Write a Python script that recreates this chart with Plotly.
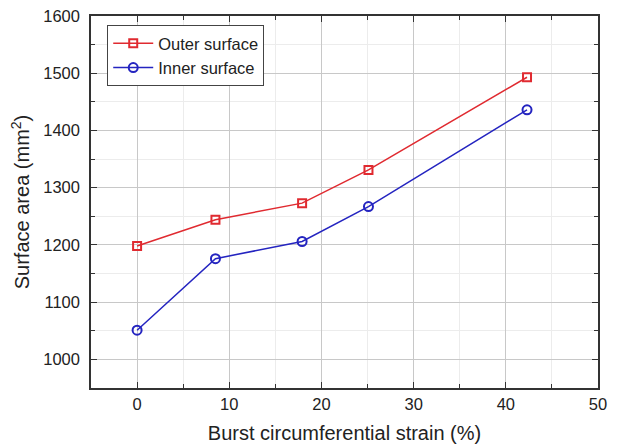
import plotly.graph_objects as go

strain = [0, 8.5, 17.9, 25.1, 42.3]
outer = [1198, 1244, 1273, 1331, 1493]
inner = [1051, 1176, 1206, 1267, 1436]

red = "#e02a30"
blue = "#2424c0"
font = "Liberation Sans"

fig = go.Figure()
fig.add_trace(go.Scatter(x=strain, y=outer, name="Outer surface", mode="lines+markers",
                         line=dict(color=red, width=1.5),
                         marker=dict(symbol="square-open", size=8, color=red, line=dict(width=2, color=red))))
fig.add_trace(go.Scatter(x=strain, y=inner, name="Inner surface", mode="lines+markers",
                         line=dict(color=blue, width=1.5),
                         marker=dict(symbol="circle-open", size=9, color=blue, line=dict(width=2, color=blue))))

axis_common = dict(showline=True, linecolor="#333", linewidth=1.5, mirror="ticks",
                   ticks="inside", ticklen=6, tickwidth=1.2, tickcolor="#333",
                   showgrid=True, gridcolor="#c8c8c8", gridwidth=1, zeroline=False,
                   automargin=False, ticklabeloverflow="allow",
                   tickfont=dict(family=font, size=16.5, color="#222"))

fig.update_xaxes(range=[-5, 50], dtick=10, tick0=0,
                 minor=dict(dtick=5, ticks="inside", ticklen=4, tickcolor="#333", showgrid=True, gridcolor="#ececec"),
                 title=dict(text="Burst circumferential strain (%)", font=dict(family=font, size=20, color="#222"), standoff=14),
                 ticklabelstandoff=0,
                 **axis_common)
fig.update_yaxes(range=[950, 1600], dtick=100, tick0=1000,
                 minor=dict(dtick=50, ticks="inside", ticklen=4, tickcolor="#333", showgrid=True, gridcolor="#ececec"),
                 title=dict(text="Surface area (mm<sup>2</sup>)", font=dict(family=font, size=20, color="#222"), standoff=14),
                 ticklabelstandoff=6,
                 **axis_common)

fig.update_layout(width=610, height=440, margin=dict(l=83, r=20, t=8, b=60),
                  plot_bgcolor="white", paper_bgcolor="white",
                  legend=dict(x=0.032, y=0.976, xanchor="left", yanchor="top",
                              bgcolor="white", bordercolor="#444", borderwidth=1,
                              font=dict(family=font, size=16.5, color="#222"),
                              tracegroupgap=0, itemwidth=40))

fig.write_html("out.html")
